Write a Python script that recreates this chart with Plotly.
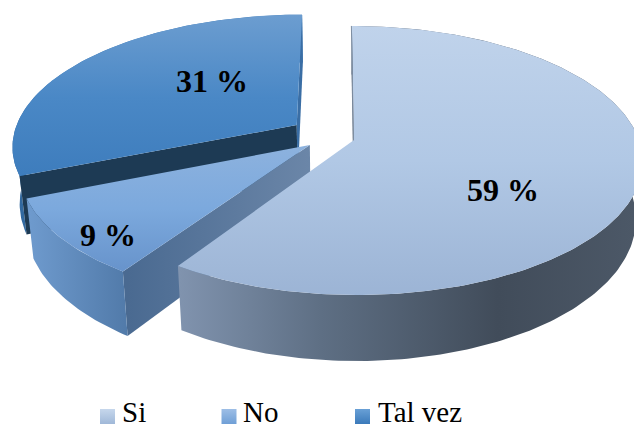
import math
import plotly.graph_objects as go

categories = ["Si", "No", "Tal vez"]
values = [59.2, 9.4, 31.2]
full_circle = 100.0                 # the three shares leave a hair of the circle unassigned

W, H = 634, 428
VX, VY = 338, 140                   # projection origin on the page
A, B, P = 285, 131.4, 0.152         # ground-plane scale and perspective
DEPTH, LEAN = 56, 0.022             # extrusion
OFFSETS = [(16 / 285, 0.0), (-28 / 285, -0.038), (-42 / 285, 0.116)]  # explosion

TOP_STOPS = [
    ["#C0D3EB", "#B1C8E5", "#9CB4D5"],
    ["#8DB2DE", "#7CA9DD", "#6793CB"],
    ["#6C9DD0", "#4A88C6", "#3D7CBC"],
]
TOP_RANGE = [(26, 295), (145, 272), (15, 180)]
FONT = "Liberation Serif, Times New Roman, serif"


def scale(cols):
    n = len(cols) - 1
    return [[i / n, c] for i, c in enumerate(cols)]


def project(X, Y):
    w = 1 + P * Y
    return VX + A * X / w, VY - B * Y / w


def drop(X, Y):
    x, y = project(X, Y)
    w = 1 + P * Y
    return VX + (x - VX) * (1 - LEAN), y + DEPTH / w


def arc(off, a0, a1, fn=project):
    n = max(2, int((a1 - a0) / 1.0))
    pts = []
    for i in range(n + 1):
        t = math.radians(a0 + (a1 - a0) * i / n)
        pts.append(fn(off[0] + math.sin(t), off[1] + math.cos(t)))
    return pts


def poly(fig, pts, name, grad=None, color=None):
    xs = [p[0] for p in pts] + [pts[0][0]]
    ys = [p[1] for p in pts] + [pts[0][1]]
    kw = dict(x=xs, y=ys, mode="lines", line=dict(width=0), fill="toself",
              name=name, hoverinfo="name", showlegend=False)
    if grad:
        kw["fillgradient"] = grad
    else:
        kw["fillcolor"] = color
    fig.add_trace(go.Scatter(**kw))


unit = 360 / full_circle
tal_start = full_circle - values[2]
no_start = tal_start - values[1]
angles = [(0, values[0] * unit),
          (no_start * unit, tal_start * unit),
          (tal_start * unit, full_circle * unit)]

fig = go.Figure()


def wall(off, ang):
    t = math.radians(ang)
    rim = (off[0] + math.sin(t), off[1] + math.cos(t))
    return [project(*off), project(*rim), drop(*rim), drop(*off)]


# Tal vez (rear)
i = 2
off, (a0, a1) = OFFSETS[i], angles[i]
side = arc(off, a0, a1) + arc(off, a0, a1, drop)[::-1]
poly(fig, side, categories[i], grad=dict(type="horizontal", start=15, stop=45,
     colorscale=scale(["#2F6499", "#3A78B6"])))
poly(fig, wall(off, a0), categories[i], color="#1D3A54")
poly(fig, wall(off, a1), categories[i], color="#3A6EA5")
poly(fig, [project(*off)] + arc(off, a0, a1), categories[i],
     grad=dict(type="vertical", start=TOP_RANGE[i][0], stop=TOP_RANGE[i][1],
               colorscale=scale(TOP_STOPS[i])))

# No (middle)
i = 1
off, (a0, a1) = OFFSETS[i], angles[i]
poly(fig, wall(off, a0), categories[i], grad=dict(type="horizontal", start=128, stop=310,
     colorscale=scale(["#4A6A91", "#6B86A8"])))
side = arc(off, a0, a1) + arc(off, a0, a1, drop)[::-1]
poly(fig, side, categories[i], grad=dict(type="horizontal", start=30, stop=128,
     colorscale=scale(["#6E9ACD", "#517AA9"])))
poly(fig, [project(*off)] + arc(off, a0, a1), categories[i],
     grad=dict(type="vertical", start=TOP_RANGE[i][0], stop=TOP_RANGE[i][1],
               colorscale=scale(TOP_STOPS[i])))

# Si (front)
i = 0
off, (a0, a1) = OFFSETS[i], angles[i]
poly(fig, wall(off, a0), categories[i], color="#6B7888")
side = arc(off, a0, a1) + arc(off, a0, a1, drop)[::-1]
poly(fig, side, categories[i], grad=dict(type="horizontal", start=180, stop=634,
     colorscale=[[0, "#8093AE"], [0.31, "#5E6F84"], [0.7, "#414C5A"], [1, "#4C5867"]]))
poly(fig, [project(*off)] + arc(off, a0, a1), categories[i],
     grad=dict(type="vertical", start=TOP_RANGE[i][0], stop=TOP_RANGE[i][1],
               colorscale=scale(TOP_STOPS[i])))

# thin edge beside the Si back wall
e = wall(off, a0)
fig.add_trace(go.Scatter(x=[e[0][0] - 0.5, e[1][0] - 0.5], y=[e[0][1], e[1][1]], mode="lines",
                         line=dict(color="#7E8EA2", width=1), hoverinfo="skip", showlegend=False))

# data labels
label_pos = [(503, 190), (107.5, 235), (212, 81)]
for c, v, (x, y) in zip(categories, values, label_pos):
    fig.add_annotation(x=x, y=y, text=f"<b>{round(v)} %</b>", showarrow=False, xanchor="center",
                       yanchor="middle", font=dict(family=FONT, size=32, color="#000000"))

# legend
legend_marks = [107.5, 229, 362.5]
legend_text = [122, 243, 378]
legend_cols = [("#A0B8D8", "#C6D7EC"), ("#6F9FD6", "#9DBEE6"), ("#3B7ABA", "#69A0D6")]
for c, mx, tx, (c0, c1) in zip(categories, legend_marks, legend_text, legend_cols):
    fig.add_trace(go.Scatter(x=[mx], y=[416.5], mode="markers", showlegend=False, hoverinfo="skip",
                             marker=dict(symbol="square", size=15, color=c1,
                                         gradient=dict(type="vertical", color=c0),
                                         line=dict(width=0))))
    fig.add_annotation(x=tx, y=428, text=c, showarrow=False, xanchor="left", yanchor="bottom",
                       borderpad=0, borderwidth=0,
                       font=dict(family=FONT, size=29, color="#000000"))

fig.update_layout(width=W, height=H, margin=dict(l=0, r=0, t=0, b=0),
                  paper_bgcolor="white", plot_bgcolor="white", showlegend=False,
                  xaxis=dict(range=[0, W], visible=False, fixedrange=True),
                  yaxis=dict(range=[H, 0], visible=False, fixedrange=True))
fig.write_html("out.html", config={"displayModeBar": False},
               post_script="document.body.style.margin='0';document.body.style.overflow='hidden';")
